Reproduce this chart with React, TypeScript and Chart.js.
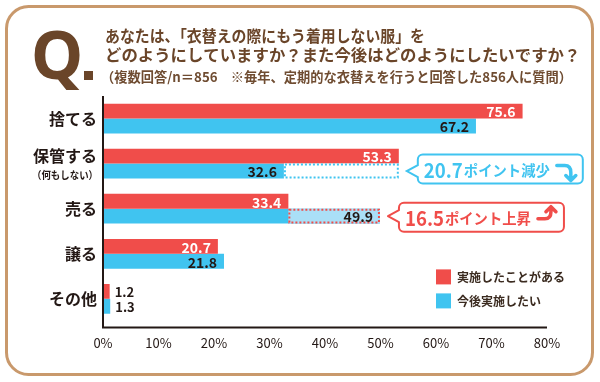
import React, { useEffect, useRef } from "react";
import { Chart, registerables } from "chart.js";

Chart.register(...registerables);

const categories = ["捨てる", "保管する", "売る", "譲る", "その他"];
const categorySubLabels = ["", "（何もしない）", "", "", ""];
const doneValues = [75.6, 53.3, 33.4, 20.7, 1.2];
const wantValues = [67.2, 32.6, 49.9, 21.8, 1.3];
const seriesNames = ["実施したことがある", "今後実施したい"];
const xTickSuffix = "%";
const titleLines = [
  "あなたは、「衣替えの際にもう着用しない服」を",
  "どのようにしていますか？また今後はどのようにしたいですか？",
  "（複数回答/n＝856　※毎年、定期的な衣替えを行うと回答した856人に質問）",
];
const callouts = [
  { index: 1, suffix: "ポイント減少", dir: "down" },
  { index: 2, suffix: "ポイント上昇", dir: "up" },
];

const FONT = '"Noto Sans CJK JP", "Noto Sans", sans-serif';
const RED = "#f04d4a";
const BLUE = "#40c4f0";
const LIGHT_BLUE = "#aadff7";
const DARK = "#231815";
const BROWN = "#6a4529";
const FRAME = "#c9996c";

function roundRect(ctx: CanvasRenderingContext2D, x: number, y: number, w: number, h: number, r: number) {
  ctx.beginPath();
  ctx.moveTo(x + r, y);
  ctx.lineTo(x + w - r, y);
  ctx.arcTo(x + w, y, x + w, y + r, r);
  ctx.lineTo(x + w, y + h - r);
  ctx.arcTo(x + w, y + h, x + w - r, y + h, r);
  ctx.lineTo(x + r, y + h);
  ctx.arcTo(x, y + h, x, y + h - r, r);
  ctx.lineTo(x, y + r);
  ctx.arcTo(x, y, x + r, y, r);
  ctx.closePath();
}

const decorPlugin = {
  id: "decor",
  beforeDraw(chart: any) {
    const ctx = chart.ctx as CanvasRenderingContext2D;
    ctx.save();
    ctx.fillStyle = "#ffffff";
    ctx.fillRect(0, 0, chart.width, chart.height);
    ctx.strokeStyle = FRAME;
    ctx.lineWidth = 3;
    roundRect(ctx, 6.5, 6.5, chart.width - 14, chart.height - 14, 22);
    ctx.stroke();
    ctx.restore();
  },
  afterDatasetsDraw(chart: any) {
    const ctx = chart.ctx as CanvasRenderingContext2D;
    const xs = chart.scales.x;
    const area = chart.chartArea;
    const m0 = chart.getDatasetMeta(0);
    const m1 = chart.getDatasetMeta(1);
    ctx.save();

    // overlay boxes for the differences
    callouts.forEach((c) => {
      const bar = m1.data[c.index];
      const a = xs.getPixelForValue(Math.min(doneValues[c.index], wantValues[c.index]));
      const b = xs.getPixelForValue(Math.max(doneValues[c.index], wantValues[c.index]));
      const top = bar.y - bar.height / 2;
      const h = bar.height;
      const isDown = c.dir === "down";
      ctx.fillStyle = isDown ? "#ffffff" : LIGHT_BLUE;
      ctx.fillRect(a, top, b - a, h);
      ctx.setLineDash([2, 2]);
      ctx.lineWidth = 2;
      ctx.strokeStyle = isDown ? BLUE : RED;
      ctx.strokeRect(a + 1, top + 1, b - a - 2, h - 2);
      ctx.setLineDash([]);
    });

    // axis lines
    ctx.strokeStyle = DARK;
    ctx.lineWidth = 2;
    ctx.beginPath();
    ctx.moveTo(area.left, area.top);
    ctx.lineTo(area.left, area.bottom + 6);
    ctx.lineTo(area.right, area.bottom + 6);
    ctx.stroke();

    // value labels
    [m0, m1].forEach((meta: any, di: number) => {
      const vals = di === 0 ? doneValues : wantValues;
      meta.data.forEach((el: any, i: number) => {
        const v = vals[i];
        ctx.textBaseline = "middle";
        if (v < 5) {
          ctx.font = `bold 13px ${FONT}`;
          ctx.fillStyle = DARK;
          ctx.textAlign = "left";
          ctx.fillText(v.toFixed(1), el.x + 5, el.y + 1);
        } else {
          ctx.font = `bold 14px ${FONT}`;
          ctx.fillStyle = di === 0 ? "#ffffff" : DARK;
          ctx.textAlign = "right";
          ctx.fillText(v.toFixed(1), el.x - 7, el.y + 1);
        }
      });
    });

    // y category labels
    ctx.fillStyle = DARK;
    ctx.textAlign = "right";
    ctx.textBaseline = "middle";
    categories.forEach((cat, i) => {
      const y = chart.scales.y.getPixelForValue(i);
      if (categorySubLabels[i]) {
        ctx.font = `bold 16px ${FONT}`;
        ctx.fillText(cat, area.left - 6, y - 8);
        ctx.font = `bold 10.5px ${FONT}`;
        ctx.fillText(categorySubLabels[i], area.left - 5, y + 11, 66);
      } else {
        ctx.font = `bold 16px ${FONT}`;
        ctx.fillText(cat, area.left - 6, y);
      }
    });

    // callout bubbles
    callouts.forEach((c) => {
      const bar = m1.data[c.index];
      const isDown = c.dir === "down";
      const col = isDown ? BLUE : RED;
      const diff = Math.abs(doneValues[c.index] - wantValues[c.index]);
      const tipX = xs.getPixelForValue(Math.max(doneValues[c.index], wantValues[c.index])) + 8;
      const tipY = bar.y;
      const L = tipX + 11;
      const W = 165;
      const H = 29;
      const T = tipY - H / 2 + (isDown ? -2 : 1);
      const R = L + W;
      const B = T + H;
      const r = 5;
      ctx.beginPath();
      ctx.moveTo(L + r, T);
      ctx.lineTo(R - r, T);
      ctx.arcTo(R, T, R, T + r, r);
      ctx.lineTo(R, B - r);
      ctx.arcTo(R, B, R - r, B, r);
      ctx.lineTo(L + r, B);
      ctx.arcTo(L, B, L, B - r, r);
      ctx.lineTo(L, tipY + 6);
      ctx.lineTo(tipX, tipY);
      ctx.lineTo(L, tipY - 6);
      ctx.lineTo(L, T + r);
      ctx.arcTo(L, T, L + r, T, r);
      ctx.closePath();
      ctx.fillStyle = "#ffffff";
      ctx.fill();
      ctx.strokeStyle = col;
      ctx.lineWidth = 2;
      ctx.stroke();

      ctx.fillStyle = col;
      ctx.textAlign = "left";
      ctx.textBaseline = "middle";
      ctx.font = `bold 20px ${FONT}`;
      const num = diff.toFixed(1);
      const tx = L + 6;
      ctx.fillText(num, tx, T + H / 2 + 1, 39);
      const nw = Math.min(ctx.measureText(num).width, 39);
      ctx.font = `bold 15px ${FONT}`;
      ctx.fillText(c.suffix, tx + nw + 1, T + H / 2 + 1, 86);

      // arrow
      ctx.lineWidth = 3.5;
      ctx.lineCap = "round";
      ctx.lineJoin = "round";
      ctx.beginPath();
      if (isDown) {
        ctx.moveTo(R - 26, T + 11);
        ctx.lineTo(R - 18, T + 11);
        ctx.quadraticCurveTo(R - 12, T + 11, R - 12, T + 18);
        ctx.lineTo(R - 12, T + 25);
        ctx.moveTo(R - 17, T + 21);
        ctx.lineTo(R - 12, T + 26);
        ctx.lineTo(R - 7, T + 21);
      } else {
        ctx.moveTo(R - 26, B - 13);
        ctx.lineTo(R - 19, B - 13);
        ctx.quadraticCurveTo(R - 13, B - 13, R - 13, B - 20);
        ctx.lineTo(R - 13, T + 5);
        ctx.moveTo(R - 18, T + 9);
        ctx.lineTo(R - 13, T + 4);
        ctx.lineTo(R - 8, T + 9);
      }
      ctx.stroke();
    });

    // legend
    const lx = area.right - 111;
    const ly = area.bottom - 52;
    [RED, BLUE].forEach((col, i) => {
      ctx.fillStyle = col;
      ctx.fillRect(lx, ly + i * 24, 15, 15);
      ctx.fillStyle = "#3b2b20";
      ctx.font = `bold 12px ${FONT}`;
      ctx.textAlign = "left";
      ctx.textBaseline = "middle";
      ctx.fillText(seriesNames[i], lx + 21, ly + i * 24 + 8);
    });

    ctx.restore();
  },
  afterDraw(chart: any) {
    const ctx = chart.ctx as CanvasRenderingContext2D;
    ctx.save();
    ctx.fillStyle = BROWN;
    ctx.font = `bold 66px "Noto Sans", "DejaVu Sans", sans-serif`;
    ctx.textAlign = "left";
    ctx.textBaseline = "alphabetic";
    ctx.fillText("Q", 31, 79);
    ctx.fillRect(84, 71, 9, 9);

    ctx.textBaseline = "middle";
    ctx.font = `bold 16.4px ${FONT}`;
    ctx.fillText(titleLines[0], 105, 36, 320);
    ctx.fillText(titleLines[1], 105, 55, 477);
    ctx.font = `bold 13.5px ${FONT}`;
    ctx.fillStyle = "#6f4c31";
    ctx.fillText(titleLines[2], 101, 77, 471);
    ctx.restore();
  },
};

export default function App() {
  const ref = useRef<HTMLCanvasElement | null>(null);
  useEffect(() => {
    if (!ref.current) return;
    const chart = new Chart(ref.current, {
      type: "bar",
      data: {
        labels: categories,
        datasets: [
          {
            label: seriesNames[0],
            data: doneValues,
            backgroundColor: RED,
            borderWidth: 0,
            categoryPercentage: 0.66,
            barPercentage: 1,
          },
          {
            label: seriesNames[1],
            data: wantValues,
            backgroundColor: BLUE,
            borderWidth: 0,
            categoryPercentage: 0.66,
            barPercentage: 1,
          },
        ],
      },
      options: {
        indexAxis: "y",
        responsive: false,
        animation: false,
        devicePixelRatio: 1,
        layout: { padding: { left: 103, right: 53, top: 96, bottom: 17 } },
        plugins: {
          legend: { display: false },
          tooltip: { enabled: false },
          title: { display: false },
        },
        scales: {
          x: {
            min: 0,
            max: 80,
            grid: { display: false, drawTicks: false },
            border: { display: false },
            ticks: {
              stepSize: 10,
              autoSkip: false,
              maxRotation: 0,
              padding: 14,
              color: DARK,
              font: { family: FONT, size: 13 },
              callback: (v: any) => `${v}${xTickSuffix}`,
            },
          },
          y: {
            display: false,
          },
        },
      },
      plugins: [decorPlugin],
    });
    return () => chart.destroy();
  }, []);
  return (
    <div style={{ position: "absolute", left: 0, top: 0, width: 600, height: 382 }}>
      <canvas ref={ref} width={600} height={382} style={{ width: 600, height: 382, display: "block" }} />
    </div>
  );
}
